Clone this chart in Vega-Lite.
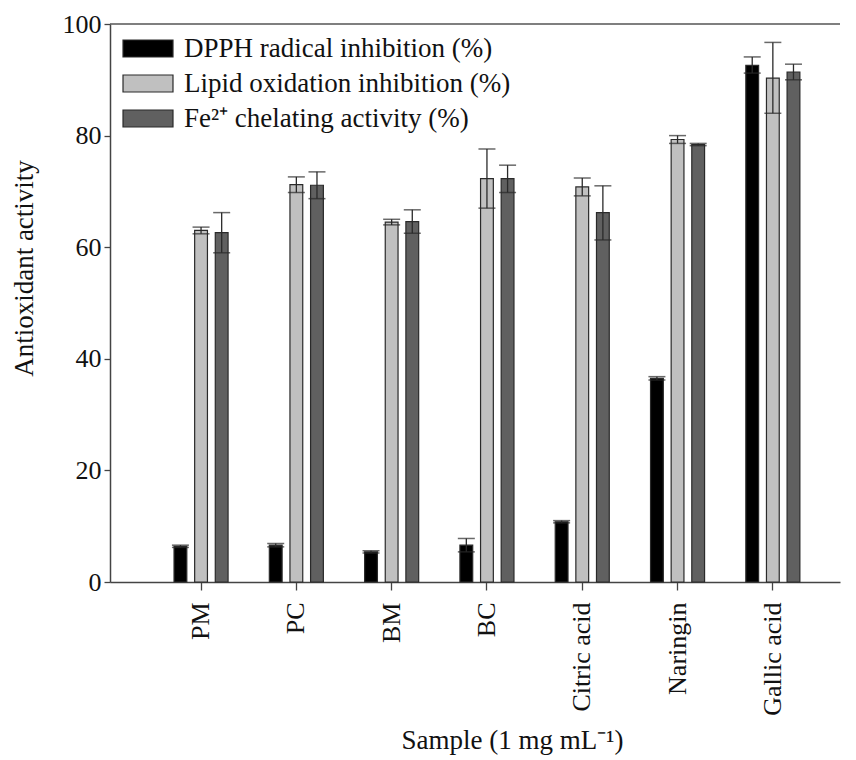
{
  "$schema": "https://vega.github.io/schema/vega-lite/v6.json",
  "width": 730,
  "height": 558,
  "autosize": {"type": "none"},
  "padding": {"left": 110, "top": 24, "right": 16, "bottom": 178},
  "config": {
    "font": "Liberation Serif",
    "view": {"stroke": null},
    "axis": {
      "domainColor": "#444444",
      "domainWidth": 1.5,
      "tickColor": "#444444",
      "tickWidth": 1.3,
      "labelColor": "#111111",
      "titleColor": "#111111",
      "labelFont": "Liberation Serif",
      "titleFont": "Liberation Serif",
      "labelFontSize": 26,
      "titleFontSize": 27,
      "titleFontWeight": "normal",
      "grid": false
    },
    "legend": {
      "labelFont": "Liberation Serif",
      "labelFontSize": 27,
      "labelColor": "#111111",
      "labelLimit": 0
    }
  },
  "data": {
    "values": [
      {"sample": "PM", "measure": "DPPH radical inhibition (%)", "value": 6.4, "lo": 6.2, "hi": 6.6},
      {"sample": "PM", "measure": "Lipid oxidation inhibition (%)", "value": 63.0, "lo": 62.4, "hi": 63.6},
      {"sample": "PM", "measure": "Fe²⁺ chelating activity (%)", "value": 62.6, "lo": 59.0, "hi": 66.2},
      {"sample": "PC", "measure": "DPPH radical inhibition (%)", "value": 6.6, "lo": 6.3, "hi": 6.9},
      {"sample": "PC", "measure": "Lipid oxidation inhibition (%)", "value": 71.2, "lo": 69.8, "hi": 72.6},
      {"sample": "PC", "measure": "Fe²⁺ chelating activity (%)", "value": 71.1, "lo": 68.7, "hi": 73.5},
      {"sample": "BM", "measure": "DPPH radical inhibition (%)", "value": 5.4, "lo": 5.2, "hi": 5.6},
      {"sample": "BM", "measure": "Lipid oxidation inhibition (%)", "value": 64.5, "lo": 64.0, "hi": 65.0},
      {"sample": "BM", "measure": "Fe²⁺ chelating activity (%)", "value": 64.6, "lo": 62.5, "hi": 66.7},
      {"sample": "BC", "measure": "DPPH radical inhibition (%)", "value": 6.6, "lo": 5.4, "hi": 7.8},
      {"sample": "BC", "measure": "Lipid oxidation inhibition (%)", "value": 72.3, "lo": 67.0, "hi": 77.6},
      {"sample": "BC", "measure": "Fe²⁺ chelating activity (%)", "value": 72.3, "lo": 69.8, "hi": 74.7},
      {"sample": "Citric acid", "measure": "DPPH radical inhibition (%)", "value": 10.8, "lo": 10.6, "hi": 11.0},
      {"sample": "Citric acid", "measure": "Lipid oxidation inhibition (%)", "value": 70.8, "lo": 69.2, "hi": 72.4},
      {"sample": "Citric acid", "measure": "Fe²⁺ chelating activity (%)", "value": 66.2, "lo": 61.3, "hi": 71.0},
      {"sample": "Naringin", "measure": "DPPH radical inhibition (%)", "value": 36.5, "lo": 36.2, "hi": 36.8},
      {"sample": "Naringin", "measure": "Lipid oxidation inhibition (%)", "value": 79.3, "lo": 78.6, "hi": 80.0},
      {"sample": "Naringin", "measure": "Fe²⁺ chelating activity (%)", "value": 78.4, "lo": 78.2, "hi": 78.6},
      {"sample": "Gallic acid", "measure": "DPPH radical inhibition (%)", "value": 92.6, "lo": 91.2, "hi": 94.1},
      {"sample": "Gallic acid", "measure": "Lipid oxidation inhibition (%)", "value": 90.3, "lo": 84.0, "hi": 96.7},
      {"sample": "Gallic acid", "measure": "Fe²⁺ chelating activity (%)", "value": 91.4, "lo": 90.0, "hi": 92.8}
    ]
  },
  "encoding": {
    "x": {
      "field": "sample",
      "type": "nominal",
      "sort": ["PM", "PC", "BM", "BC", "Citric acid", "Naringin", "Gallic acid"],
      "scale": {"paddingInner": 0, "paddingOuter": 0.33, "align": 0.69},
      "title": "Sample (1 mg mL⁻¹)",
      "axis": {"labelAngle": -90, "tickSize": 8, "labelPadding": 12, "titlePadding": 12, "titleX": 402, "titleAlign": "center"}
    },
    "xOffset": {
      "field": "measure",
      "type": "nominal",
      "sort": ["DPPH radical inhibition (%)", "Lipid oxidation inhibition (%)", "Fe²⁺ chelating activity (%)"],
      "scale": {"paddingInner": 0.38, "paddingOuter": 1.15}
    }
  },
  "layer": [
    {
      "mark": {"type": "bar", "stroke": "#2a2a2a", "strokeWidth": 1.2},
      "encoding": {
        "y": {
          "field": "value",
          "type": "quantitative",
          "scale": {"domain": [0, 100]},
          "title": "Antioxidant activity",
          "axis": {"values": [0, 20, 40, 60, 80, 100], "tickSize": 6, "labelPadding": 3, "titlePadding": 24, "titleY": 244}
        },
        "fill": {
          "field": "measure",
          "type": "nominal",
          "sort": ["DPPH radical inhibition (%)", "Lipid oxidation inhibition (%)", "Fe²⁺ chelating activity (%)"],
          "scale": {
            "domain": ["DPPH radical inhibition (%)", "Lipid oxidation inhibition (%)", "Fe²⁺ chelating activity (%)"],
            "range": ["#000000", "#c0c0c0", "#606060"]
          },
          "legend": {
            "title": null,
            "orient": "none",
            "legendX": 24.5,
            "legendY": 11,
            "symbolType": "M-2.94,-1H2.94V1H-2.94Z",
            "symbolSize": 289,
            "symbolStrokeColor": "#2a2a2a",
            "symbolStrokeWidth": 1.2,
            "symbolOpacity": 1,
            "rowPadding": 7,
            "labelOffset": 22.5
          }
        }
      }
    },
    {
      "mark": {"type": "rule", "color": "#2a2a2a", "strokeWidth": 1.3},
      "encoding": {
        "y": {"field": "lo", "type": "quantitative"},
        "y2": {"field": "hi"}
      }
    },
    {
      "mark": {"type": "tick", "color": "#2a2a2a", "thickness": 1.5, "size": 17},
      "encoding": {"y": {"field": "hi", "type": "quantitative"}}
    },
    {
      "mark": {"type": "tick", "color": "#2a2a2a", "thickness": 1.5, "size": 17},
      "encoding": {"y": {"field": "lo", "type": "quantitative"}}
    },
    {
      "data": {"values": [{"top": 100}]},
      "mark": {"type": "rule", "color": "#555555", "strokeWidth": 1.5},
      "encoding": {"y": {"field": "top", "type": "quantitative"}, "x": null, "xOffset": null}
    }
  ]
}
